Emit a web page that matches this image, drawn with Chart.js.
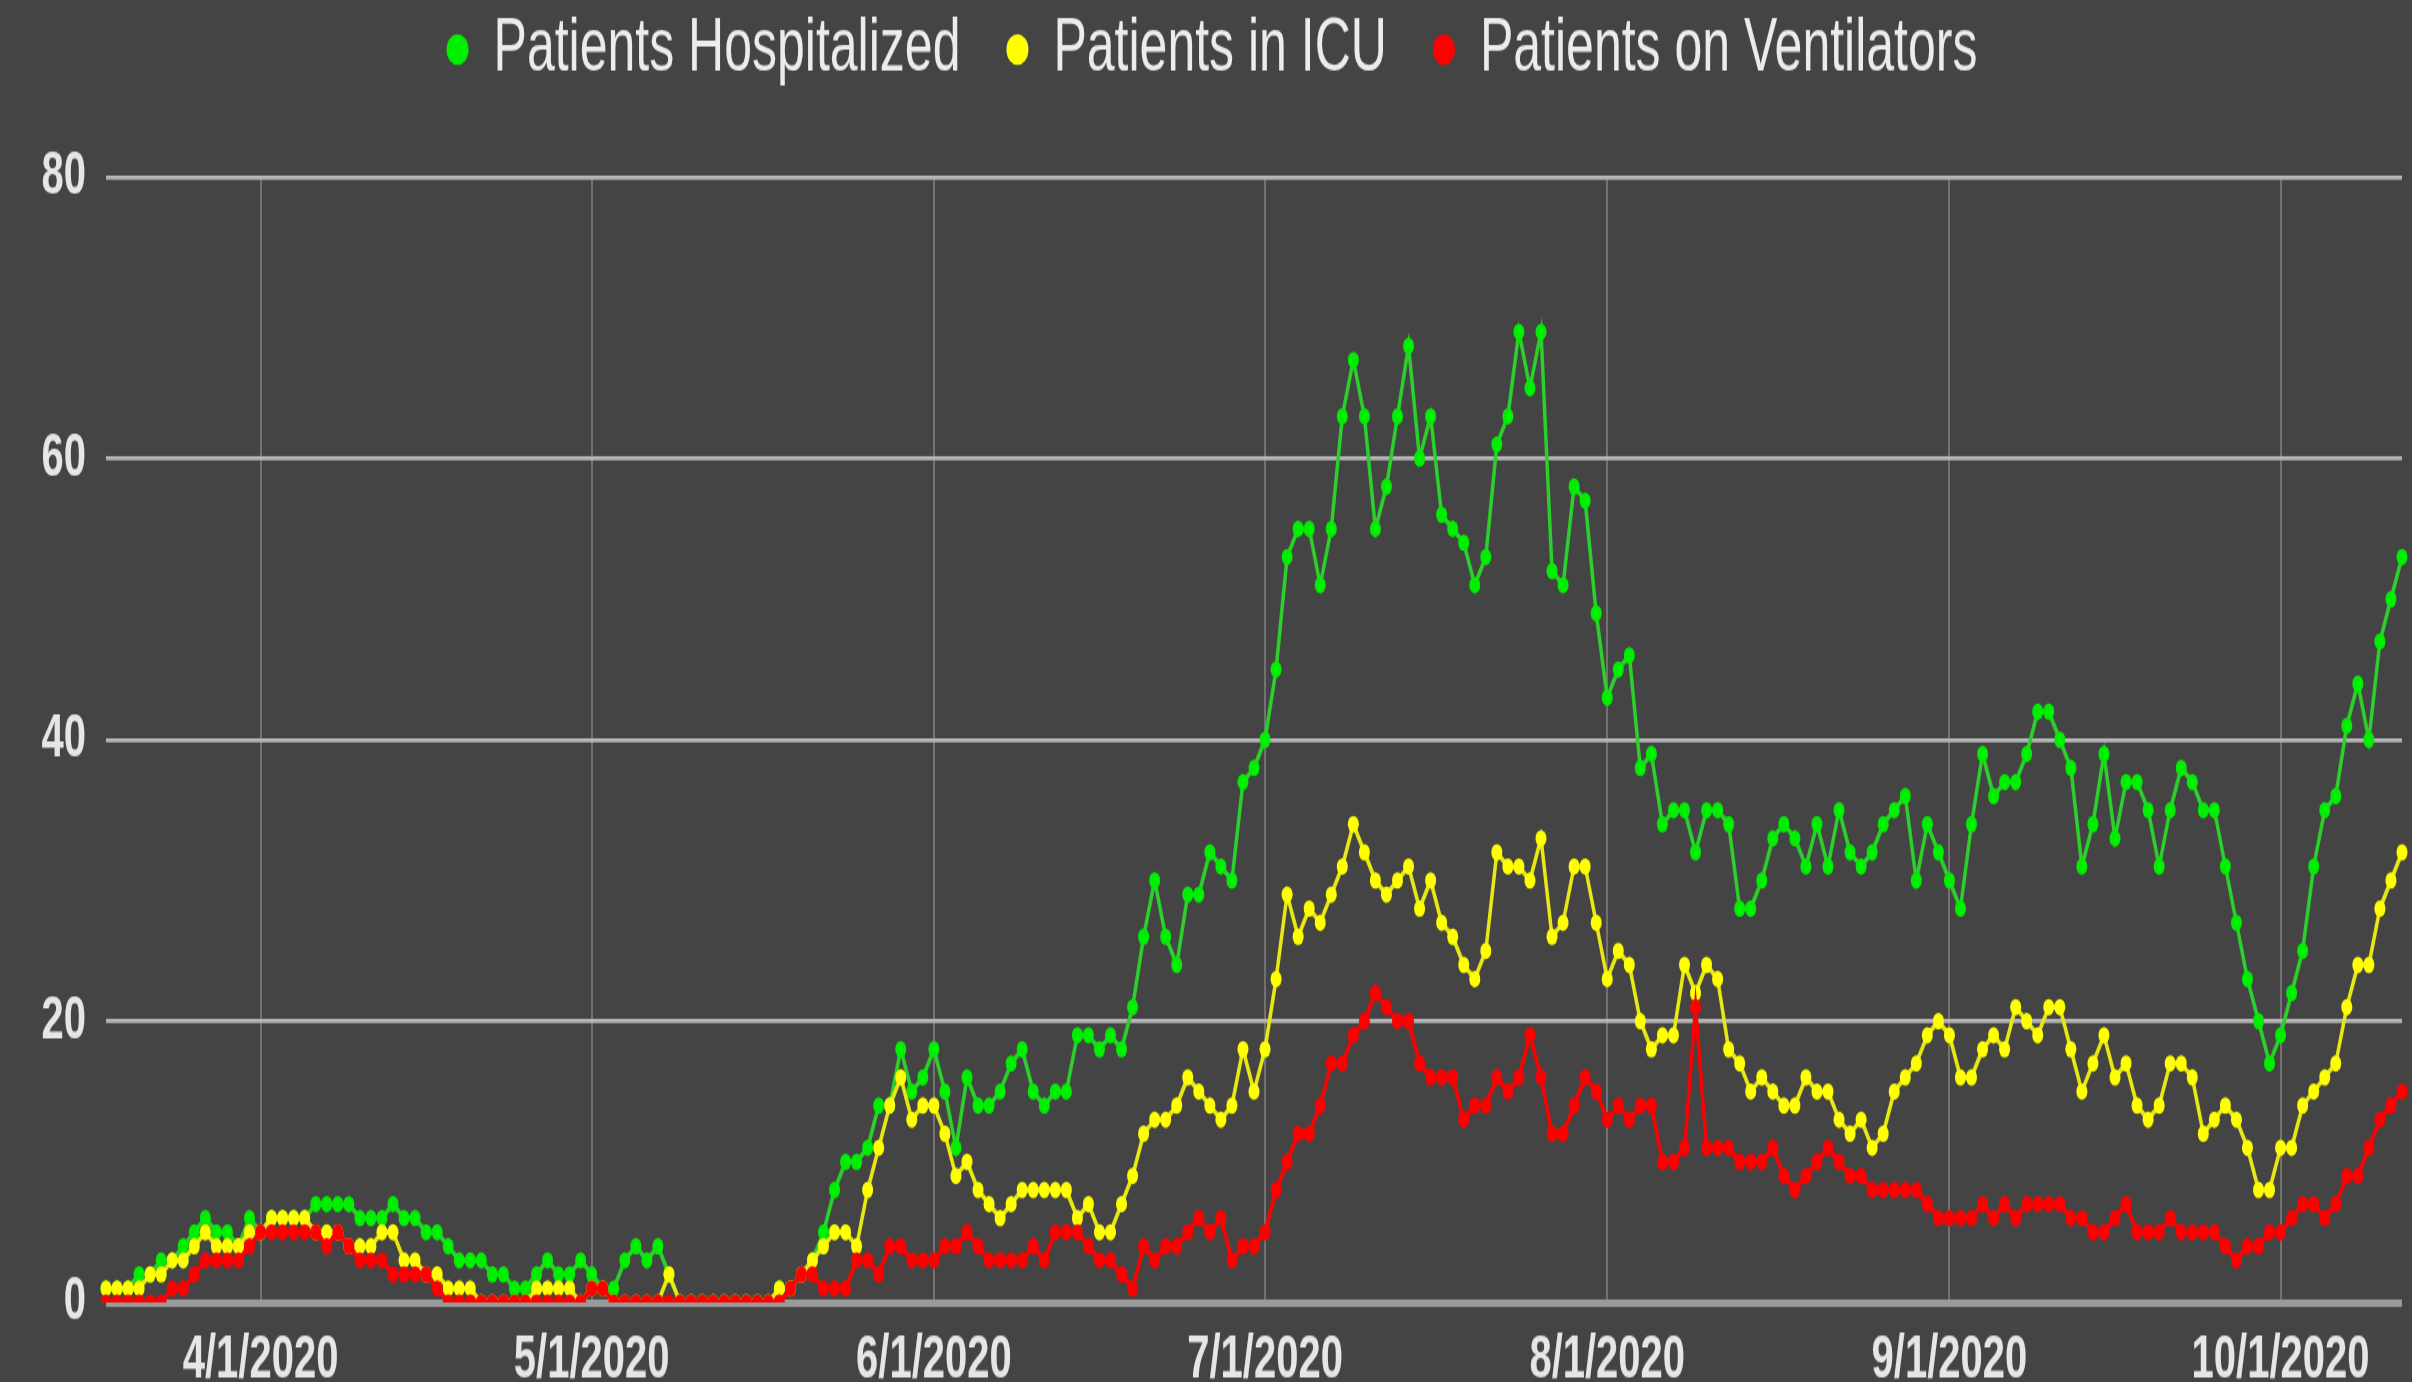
<!DOCTYPE html>
<html>
<head>
<meta charset="utf-8">
<title>Patients Hospitalized</title>
<script src="https://cdn.jsdelivr.net/npm/chart.js@4.4.1/dist/chart.umd.min.js"></script>
<style>
  html, body { margin: 0; padding: 0; background: #444444; }
  #stage { width: 2412px; height: 1382px; overflow: hidden; }
  /* the source chart is a stretched image, so draw it flatter and stretch it the same way */
  #wrap { width: 2412px; height: 921px; transform: scaleY(1.5005); transform-origin: 0 0; }
</style>
</head>
<body>
<div id="stage"><div id="wrap"><canvas id="chart"></canvas></div></div>
<script>
// daily counts from 3/18/2020 to 10/12/2020
const hospitalized = [
    1, 1, 1, 2, 2, 3, 3, 4, 5, 6, 5, 5, 4, 6,
    5, 6, 6, 6, 6, 7, 7, 7, 7, 6, 6, 6, 7, 6, 6, 5, 5, 4, 3, 3, 3, 2, 2, 1, 1, 2, 3, 2, 2, 3,
    2, 1, 1, 3, 4, 3, 4, 2, 0, 0, 0, 0, 0, 0, 0, 0, 0, 1, 1, 2, 3, 5, 8, 10, 10, 11, 14, 14, 18, 15, 16,
    18, 15, 11, 16, 14, 14, 15, 17, 18, 15, 14, 15, 15, 19, 19, 18, 19, 18, 21, 26, 30, 26, 24, 29, 29, 32, 31, 30, 37, 38,
    40, 45, 53, 55, 55, 51, 55, 63, 67, 63, 55, 58, 63, 68, 60, 63, 56, 55, 54, 51, 53, 61, 63, 69, 65, 69, 52, 51, 58, 57, 49,
    43, 45, 46, 38, 39, 34, 35, 35, 32, 35, 35, 34, 28, 28, 30, 33, 34, 33, 31, 34, 31, 35, 32, 31, 32, 34, 35, 36, 30, 34, 32,
    30, 28, 34, 39, 36, 37, 37, 39, 42, 42, 40, 38, 31, 34, 39, 33, 37, 37, 35, 31, 35, 38, 37, 35, 35, 31, 27, 23, 20, 17,
    19, 22, 25, 31, 35, 36, 41, 44, 40, 47, 50, 53
];
const icu = [
    1, 1, 1, 1, 2, 2, 3, 3, 4, 5, 4, 4, 4, 5,
    5, 6, 6, 6, 6, 5, 5, 5, 4, 4, 4, 5, 5, 3, 3, 2, 2, 1, 1, 1, 0, 0, 0, 0, 0, 1, 1, 1, 1, 0,
    1, 1, 0, 0, 0, 0, 0, 2, 0, 0, 0, 0, 0, 0, 0, 0, 0, 1, 1, 2, 3, 4, 5, 5, 4, 8, 11, 14, 16, 13, 14,
    14, 12, 9, 10, 8, 7, 6, 7, 8, 8, 8, 8, 8, 6, 7, 5, 5, 7, 9, 12, 13, 13, 14, 16, 15, 14, 13, 14, 18, 15,
    18, 23, 29, 26, 28, 27, 29, 31, 34, 32, 30, 29, 30, 31, 28, 30, 27, 26, 24, 23, 25, 32, 31, 31, 30, 33, 26, 27, 31, 31, 27,
    23, 25, 24, 20, 18, 19, 19, 24, 22, 24, 23, 18, 17, 15, 16, 15, 14, 14, 16, 15, 15, 13, 12, 13, 11, 12, 15, 16, 17, 19, 20,
    19, 16, 16, 18, 19, 18, 21, 20, 19, 21, 21, 18, 15, 17, 19, 16, 17, 14, 13, 14, 17, 17, 16, 12, 13, 14, 13, 11, 8, 8,
    11, 11, 14, 15, 16, 17, 21, 24, 24, 28, 30, 32
];
const ventilators = [
    0, 0, 0, 0, 0, 0, 1, 1, 2, 3, 3, 3, 3, 4,
    5, 5, 5, 5, 5, 5, 4, 5, 4, 3, 3, 3, 2, 2, 2, 2, 1, 0, 0, 0, 0, 0, 0, 0, 0, 0, 0, 0, 0, 0,
    1, 1, 0, 0, 0, 0, 0, 0, 0, 0, 0, 0, 0, 0, 0, 0, 0, 0, 1, 2, 2, 1, 1, 1, 3, 3, 2, 4, 4, 3, 3,
    3, 4, 4, 5, 4, 3, 3, 3, 3, 4, 3, 5, 5, 5, 4, 3, 3, 2, 1, 4, 3, 4, 4, 5, 6, 5, 6, 3, 4, 4,
    5, 8, 10, 12, 12, 14, 17, 17, 19, 20, 22, 21, 20, 20, 17, 16, 16, 16, 13, 14, 14, 16, 15, 16, 19, 16, 12, 12, 14, 16, 15,
    13, 14, 13, 14, 14, 10, 10, 11, 21, 11, 11, 11, 10, 10, 10, 11, 9, 8, 9, 10, 11, 10, 9, 9, 8, 8, 8, 8, 8, 7, 6,
    6, 6, 6, 7, 6, 7, 6, 7, 7, 7, 7, 6, 6, 5, 5, 6, 7, 5, 5, 5, 6, 5, 5, 5, 5, 4, 3, 4, 4, 5,
    5, 6, 7, 7, 6, 7, 9, 9, 11, 13, 14, 15
];
const seriesNames = ['Patients Hospitalized', 'Patients in ICU', 'Patients on Ventilators'];
const yTicks = [0, 20, 40, 60, 80];

// one category per day, labelled m/d/yyyy
const days = [];
for (let i = 0; i < hospitalized.length; i++) {
    const d = new Date(2020, 2, 18 + i);
    days.push((d.getMonth() + 1) + '/' + d.getDate() + '/' + d.getFullYear());
}

const FONT = '"Liberation Sans", Arial, sans-serif';

// extra room between the legend and the plot
const legendGap = {
    id: 'legendGap',
    beforeInit(chart) {
        const fit = chart.legend.fit;
        chart.legend.fit = function () {
            fit.bind(chart.legend)();
            this.height += 50;
        };
    }
};

const ctx = document.getElementById('chart').getContext('2d');
const chart = new Chart(ctx, {
    type: 'line',
    data: {
        labels: days,
        datasets: [
            {
                label: seriesNames[0],
                data: hospitalized,
                borderColor: '#2ccf2c',
                backgroundColor: '#00ee00',
                pointBackgroundColor: '#00ee00',
                order: 3
            },
            {
                label: seriesNames[1],
                data: icu,
                borderColor: '#e8e815',
                backgroundColor: '#ffff00',
                pointBackgroundColor: '#ffff00',
                order: 2
            },
            {
                label: seriesNames[2],
                data: ventilators,
                borderColor: '#ff0000',
                backgroundColor: '#ff0000',
                pointBackgroundColor: '#ff0000',
                order: 1
            }
        ]
    },
    options: {
        responsive: true,
        maintainAspectRatio: false,
        animation: false,
        layout: { padding: { top: -38, right: 10, left: 22, bottom: 0 } },
        elements: {
            line: { borderWidth: 3.5, tension: 0, fill: false },
            point: { radius: 5.5, borderWidth: 0, hoverRadius: 6 }
        },
        plugins: {
            tooltip: { enabled: false },
            legend: {
                position: 'top',
                labels: {
                    usePointStyle: true,
                    pointStyle: 'circle',
                    pointStyleWidth: 22,
                    boxHeight: 14.5,
                    padding: 46,
                    color: '#ececec',
                    font: { family: FONT, size: 50 },
                    sort: (a, b) => a.datasetIndex - b.datasetIndex
                }
            }
        },
        scales: {
            x: {
                type: 'category',
                offset: false,
                border: { display: false },
                grid: { color: '#727272', lineWidth: 2, drawTicks: false },
                ticks: {
                    autoSkip: false,
                    maxRotation: 0,
                    padding: 15,
                    color: '#e6e6e6',
                    font: { family: FONT, size: 40, weight: 'bold' },
                    callback(value) {
                        const lbl = this.getLabelForValue(value);
                        return lbl.split('/')[1] === '1' ? lbl : null;
                    }
                },
                afterFit(scale) { scale.height = 53; }
            },
            y: {
                min: yTicks[0],
                max: yTicks[yTicks.length - 1],
                border: { display: false },
                grid: {
                    color: c => c.tick.value === 0 ? '#9a9a9a' : '#b6b6b6',
                    lineWidth: c => c.tick.value === 0 ? 5 : 2.7,
                    drawTicks: false
                },
                ticks: {
                    stepSize: 20,
                    padding: 20,
                    color: '#e6e6e6',
                    font: { family: FONT, size: 40, weight: 'bold' }
                },
                afterFit(scale) { scale.width = 84; }
            }
        }
    },
    plugins: [legendGap]
});
</script>
</body>
</html>
